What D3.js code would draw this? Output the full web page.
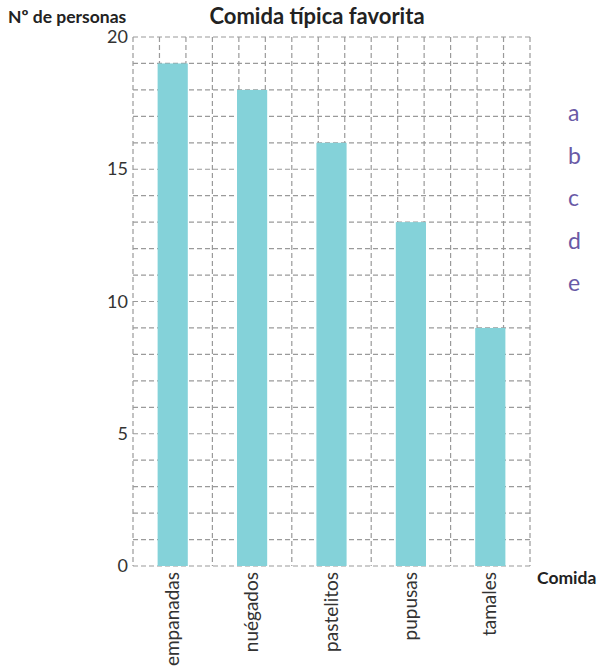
<!DOCTYPE html>
<meta charset="utf-8">
<head>
    <title>Comida típica favorita</title>
    <script src="https://d3js.org/d3.v7.min.js"></script>
</head>
<style type="text/css">
body{
    margin: 0;
    background: #FFFFFF;
}
text{
    font-family: "Lato", "Open Sans", sans-serif;
}
</style>
<body>
    <svg id="chart" width="605" height="670"></svg>

    <script type="text/javascript">
        // chart data
        var foods = ["empanadas", "nuégados", "pastelitos", "pupusas", "tamales"];
        var people = [19, 18, 16, 13, 9];
        var yTicks = [0, 5, 10, 15, 20];
        var letters = ["a", "b", "c", "d", "e"];

        var svg = d3.select("#chart");
        var plotLeft = 133, plotRight = 530, plotTop = 37, plotBottom = 566;
        var cell = (plotRight - plotLeft) / 15;

        var x = d3.scaleBand().domain(foods).range([plotLeft, plotRight]).paddingInner(0.62).paddingOuter(0.31);
        var y = d3.scaleLinear().domain([0, 20]).range([plotBottom, plotTop]);

        // grid
        var grid = svg.append("g")
            .attr("stroke", "#9a9a9a")
            .attr("stroke-width", 1.2)
            .attr("stroke-dasharray", "5,3");
        grid.selectAll("line.h")
            .data(d3.range(0, 21))
            .enter().append("line")
            .attr("x1", plotLeft).attr("x2", plotRight)
            .attr("y1", function(d) { return y(d); })
            .attr("y2", function(d) { return y(d); });
        grid.selectAll("line.v")
            .data(d3.range(0, 16))
            .enter().append("line")
            .attr("y1", plotTop).attr("y2", plotBottom)
            .attr("x1", function(d) { return plotLeft + d * cell; })
            .attr("x2", function(d) { return plotLeft + d * cell; });

        // bars
        svg.selectAll("rect.bar")
            .data(foods)
            .enter().append("rect")
            .attr("class", "bar")
            .attr("fill", "#84d2d9")
            .attr("x", function(d) { return x(d); })
            .attr("width", x.bandwidth())
            .attr("y", function(d, i) { return y(people[i]); })
            .attr("height", function(d, i) { return y(0) - y(people[i]); });

        // y axis labels
        svg.selectAll("text.ytick")
            .data(yTicks)
            .enter().append("text")
            .attr("x", plotLeft - 5)
            .attr("y", function(d) { return y(d) + 6; })
            .attr("text-anchor", "end")
            .style("font-size", "18px")
            .style("fill", "#333")
            .text(function(d) { return d; });

        // x labels, rotated
        svg.selectAll("text.xtick")
            .data(foods)
            .enter().append("text")
            .attr("transform", function(d) {
                return "translate(" + (x(d) + x.bandwidth() / 2 + 6) + "," + (plotBottom + 6) + ") rotate(-90)";
            })
            .attr("text-anchor", "end")
            .style("font-size", "19px")
            .style("fill", "#333")
            .text(function(d) { return d; });

        // titles
        svg.append("text")
            .attr("x", 317).attr("y", 24)
            .attr("text-anchor", "middle")
            .style("font-size", "22px")
            .style("font-weight", "bold")
            .style("fill", "#222")
            .text("Comida típica favorita");

        svg.append("text")
            .attr("x", 8).attr("y", 23)
            .style("font-size", "17.5px")
            .style("font-weight", "bold")
            .style("fill", "#222")
            .text("Nº de personas");

        svg.append("text")
            .attr("x", 537).attr("y", 584)
            .style("font-size", "17.5px")
            .style("font-weight", "bold")
            .style("fill", "#222")
            .text("Comida");

        // side letters
        svg.selectAll("text.letter")
            .data(letters)
            .enter().append("text")
            .attr("x", 568)
            .attr("y", function(d, i) { return 121 + i * 42.5; })
            .style("font-size", "23px")
            .style("fill", "#6a5aa6")
            .text(function(d) { return d; });
    </script>
</body>
